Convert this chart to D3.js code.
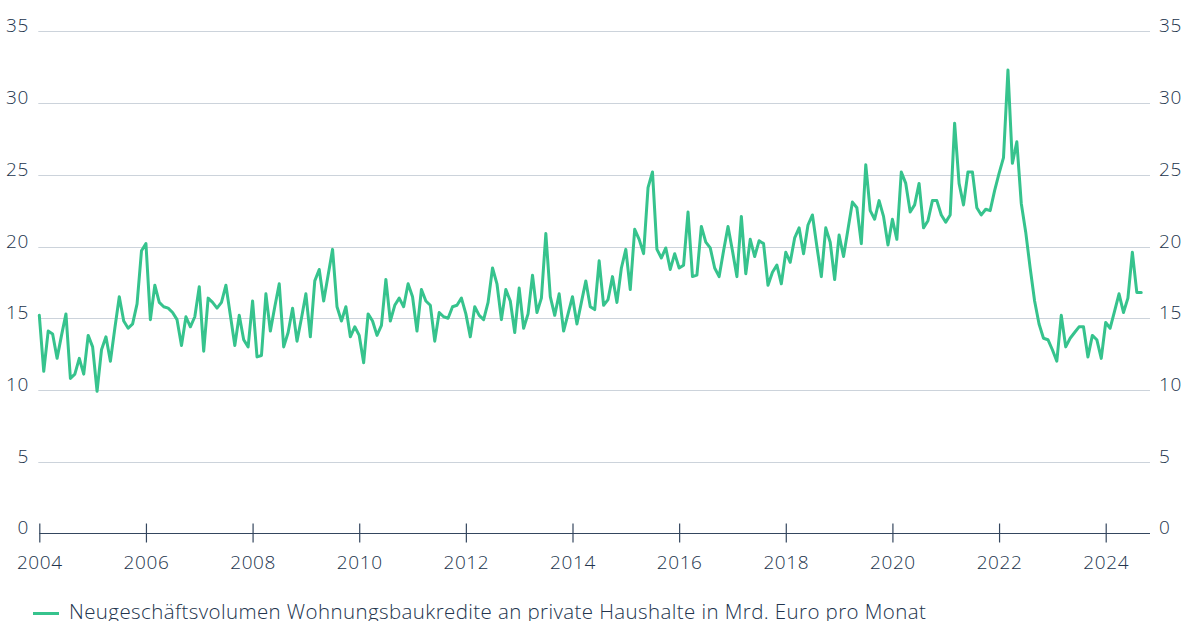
<!DOCTYPE html>
<html>
<head>
<meta charset="utf-8">
<script src="https://cdn.jsdelivr.net/npm/d3@7"></script>
<style>
  html, body { margin: 0; padding: 0; background: #ffffff; }
  svg { display: block; }
  text { font-family: "Open Sans", "Noto Sans", sans-serif; font-weight: 300; fill: #22344d; }
</style>
</head>
<body>
<svg id="chart" width="1185" height="621"></svg>
<script>
// Monthly values, Jan 2004 .. Sep 2024 (Mrd. Euro)
const startYear = 2004;
const values2004 = [15.2, 11.3, 14.1, 13.9, 12.2, 13.8, 15.3, 10.8, 11.1, 12.2, 11.1, 13.8];
const values2005 = [13.0, 9.9, 12.8, 13.7, 12.0, 14.3, 16.5, 14.8, 14.3, 14.6, 16.0, 19.7];
const values2006 = [20.2, 14.9, 17.3, 16.1, 15.8, 15.7, 15.4, 14.9, 13.1, 15.1, 14.4, 15.1];
const values2007 = [17.2, 12.7, 16.4, 16.1, 15.7, 16.1, 17.3, 15.2, 13.1, 15.2, 13.5, 13.0];
const values2008 = [16.2, 12.3, 12.4, 16.7, 14.1, 15.8, 17.4, 13.0, 14.0, 15.7, 13.4, 15.0];
const values2009 = [16.7, 13.7, 17.6, 18.4, 16.2, 18.0, 19.8, 15.8, 14.8, 15.8, 13.7, 14.4];
const values2010 = [13.8, 11.9, 15.3, 14.8, 13.8, 14.5, 17.7, 14.8, 15.9, 16.4, 15.8, 17.4];
const values2011 = [16.5, 14.1, 17.0, 16.2, 15.9, 13.4, 15.4, 15.1, 15.0, 15.8, 15.9, 16.4];
const values2012 = [15.3, 13.7, 15.8, 15.2, 14.9, 16.1, 18.5, 17.4, 14.9, 17.0, 16.2, 14.0];
const values2013 = [17.1, 14.3, 15.3, 18.0, 15.4, 16.4, 20.9, 16.5, 15.2, 16.7, 14.1, 15.3];
const values2014 = [16.5, 14.6, 16.1, 17.6, 15.8, 15.6, 19.0, 15.9, 16.3, 17.9, 16.1, 18.5];
const values2015 = [19.8, 17.0, 21.2, 20.5, 19.5, 24.1, 25.2, 19.8, 19.2, 19.9, 18.4, 19.5];
const values2016 = [18.5, 18.7, 22.4, 17.9, 18.0, 21.4, 20.3, 19.9, 18.5, 17.9, 19.7, 21.4];
const values2017 = [19.7, 17.9, 22.1, 18.1, 20.5, 19.3, 20.4, 20.2, 17.3, 18.2, 18.7, 17.4];
const values2018 = [19.6, 18.9, 20.6, 21.3, 19.5, 21.5, 22.2, 20.0, 17.9, 21.3, 20.3, 17.7];
const values2019 = [20.8, 19.3, 21.2, 23.1, 22.7, 20.2, 25.7, 22.5, 21.9, 23.2, 22.1, 20.1];
const values2020 = [21.9, 20.5, 25.2, 24.4, 22.4, 22.9, 24.4, 21.3, 21.8, 23.2, 23.2, 22.2];
const values2021 = [21.7, 22.2, 28.6, 24.4, 22.9, 25.2, 25.2, 22.7, 22.2, 22.6, 22.5, 23.9];
const values2022 = [25.1, 26.2, 32.3, 25.8, 27.3, 23.0, 21.0, 18.5, 16.2, 14.6, 13.6, 13.5];
const values2023 = [12.8, 12.0, 15.2, 13.0, 13.6, 14.0, 14.4, 14.4, 12.3, 13.8, 13.5, 12.2];
const values2024 = [14.7, 14.3, 15.5, 16.7, 15.4, 16.4, 19.6, 16.8, 16.8];

const yTicks = [0, 5, 10, 15, 20, 25, 30, 35];
const xTickYears = [2004, 2006, 2008, 2010, 2012, 2014, 2016, 2018, 2020, 2022, 2024];
const seriesLabel = "Neugeschäftsvolumen Wohnungsbaukredite an private Haushalte in Mrd. Euro pro Monat";

const allValues = [].concat(values2004, values2005, values2006, values2007, values2008,
  values2009, values2010, values2011, values2012, values2013, values2014, values2015,
  values2016, values2017, values2018, values2019, values2020, values2021, values2022,
  values2023, values2024);
const data = allValues.map((v, i) => ({ t: startYear + i / 12, v: v }));

const svg = d3.select("#chart");
const x0 = 39.3, xEnd = 1150;
const pxPerYear = (1105.7 - 39.3) / 20;
const x = d3.scaleLinear()
  .domain([2004, 2004 + (xEnd - x0) / pxPerYear])
  .range([x0, xEnd]);
const y = d3.scaleLinear().domain([0, 35]).range([533.3, 31.4]);

const lineColor = "#36c38d";
const gridColor = "#ccd3db";
const axisColor = "#34465e";
const labelSize = 19;
const labelSpacing = 0.6;

// gridlines
svg.append("g").selectAll("line")
  .data(yTicks.filter(d => d > 0))
  .join("line")
  .attr("x1", x0 - 1).attr("x2", xEnd)
  .attr("y1", d => Math.round(y(d)) + 0.5).attr("y2", d => Math.round(y(d)) + 0.5)
  .attr("stroke", gridColor).attr("stroke-width", 1);

// left labels
svg.append("g").selectAll("text")
  .data(yTicks).join("text")
  .attr("x", 29).attr("y", d => y(d) + 1)
  .attr("text-anchor", "end")
  .attr("font-size", labelSize)
  .attr("letter-spacing", labelSpacing)
  .text(d => d);

// right labels
svg.append("g").selectAll("text")
  .data(yTicks).join("text")
  .attr("x", 1159).attr("y", d => y(d) + 1)
  .attr("text-anchor", "start")
  .attr("font-size", labelSize)
  .attr("letter-spacing", labelSpacing)
  .text(d => d);

// x axis
const xAxis = d3.axisBottom(x)
  .tickValues(xTickYears)
  .tickSize(9)
  .tickSizeOuter(0)
  .tickFormat(d3.format("d"));
const gx = svg.append("g")
  .attr("transform", `translate(0,${Math.round(y(0)) + 0.5})`)
  .call(xAxis);
gx.select(".domain").attr("stroke", axisColor).attr("stroke-width", 1.2)
  .attr("d", `M${x0},0H${xEnd}`);
gx.selectAll(".tick line").attr("stroke", axisColor).attr("stroke-width", 1.2)
  .attr("y1", -10).attr("y2", 9);
gx.selectAll(".tick text")
  .attr("font-size", labelSize)
  .attr("letter-spacing", labelSpacing)
  .attr("font-family", '"Open Sans", "Noto Sans", sans-serif')
  .attr("font-weight", 300)
  .attr("fill", "#22344d")
  .attr("y", 0).attr("dy", 35);

// series line
const line = d3.line().x(d => x(d.t)).y(d => y(d.v));
svg.append("path")
  .datum(data)
  .attr("d", line)
  .attr("fill", "none")
  .attr("stroke", lineColor)
  .attr("stroke-width", 3)
  .attr("stroke-linejoin", "round")
  .attr("stroke-linecap", "round");

// legend
const lg = svg.append("g");
lg.append("line")
  .attr("x1", 33).attr("x2", 59).attr("y1", 613.5).attr("y2", 613.5)
  .attr("stroke", lineColor).attr("stroke-width", 3);
lg.append("text")
  .attr("x", 69).attr("y", 619)
  .attr("font-size", 20.5)
  .attr("letter-spacing", 0.4)
  .text(seriesLabel);
</script>
</body>
</html>
